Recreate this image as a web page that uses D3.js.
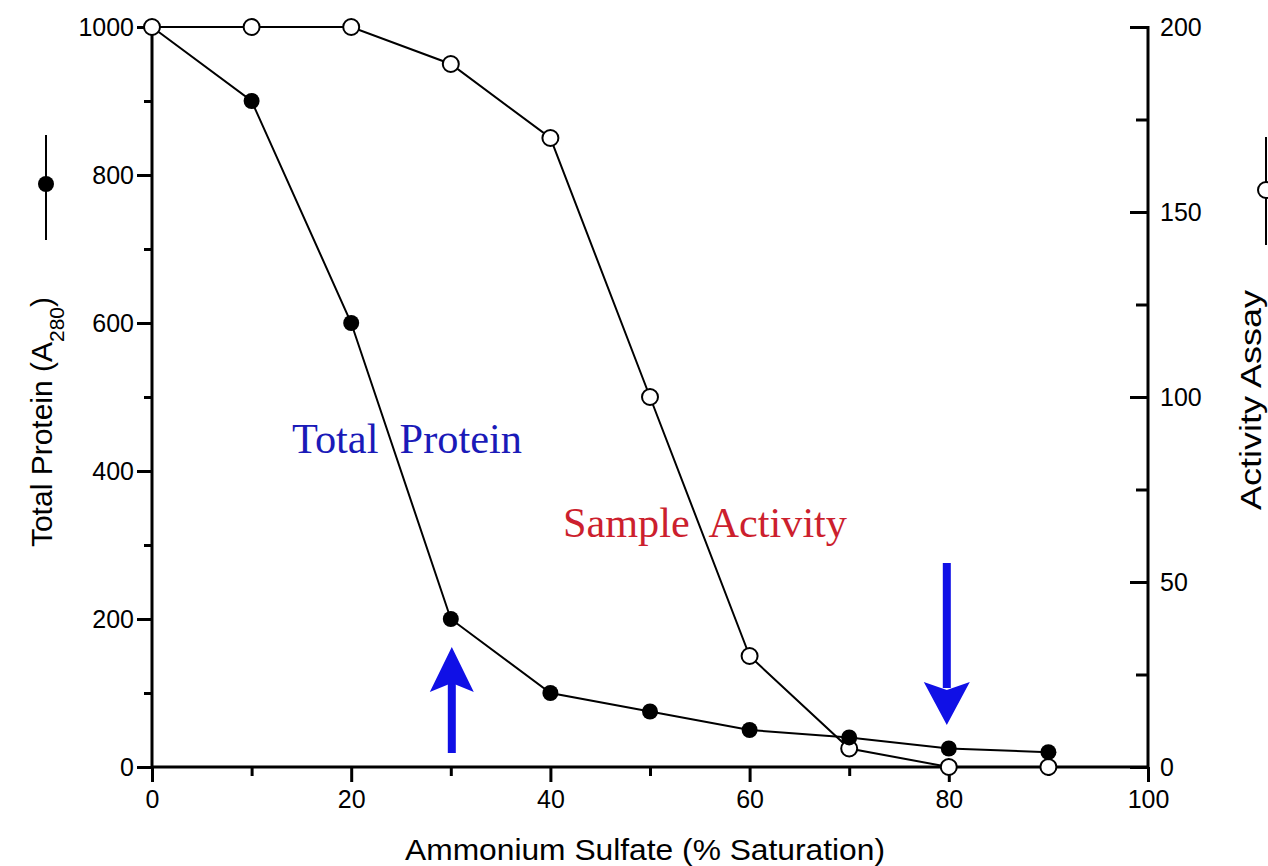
<!DOCTYPE html>
<html>
<head>
<meta charset="utf-8">
<script src="https://cdn.jsdelivr.net/npm/d3@7"></script>
<style>
  html, body { margin: 0; padding: 0; background: #fff; }
  svg { display: block; }
</style>
</head>
<body>
<svg id="chart" width="1268" height="866"></svg>
<script>
// ---- data ----
const saturation = [0, 10, 20, 30, 40, 50, 60, 70, 80, 90];
const totalProtein = [1000, 900, 600, 200, 100, 75, 50, 40, 25, 20];
const activity = [200, 200, 200, 190, 170, 100, 30, 5, 0, 0];
const xTicks = [0, 20, 40, 60, 80, 100];
const xMinorTicks = [10, 30, 50, 70, 90];
const yLeftTicks = [0, 200, 400, 600, 800, 1000];
const yLeftMinor = [100, 300, 500, 700, 900];
const yRightTicks = [0, 50, 100, 150, 200];
const yRightMinor = [25, 75, 125, 175];
const arrowsUp = [30];
const arrowsDown = [80];

const svg = d3.select("#chart");
const x = d3.scaleLinear().domain([0, 100]).range([152, 1148]);
const yL = d3.scaleLinear().domain([0, 1000]).range([767, 27]);
const yR = d3.scaleLinear().domain([0, 200]).range([767, 27]);
const sans = "'Liberation Sans', Arial, sans-serif";
const serif = "'Liberation Serif', 'Times New Roman', serif";

// ---- axes ----
const axisW = 3;
const gx = svg.append("g").attr("transform", `translate(0,${yL(0)})`)
  .call(d3.axisBottom(x).tickValues(xTicks).tickSize(15).tickPadding(8).tickFormat(d3.format("d")));
const gxm = svg.append("g").attr("transform", `translate(0,${yL(0)})`)
  .call(d3.axisBottom(x).tickValues(xMinorTicks).tickSize(9).tickFormat(""));
const gy = svg.append("g").attr("transform", `translate(${x(0)},0)`)
  .call(d3.axisLeft(yL).tickValues(yLeftTicks).tickSize(15).tickPadding(3).tickFormat(d3.format("d")));
const gym = svg.append("g").attr("transform", `translate(${x(0)},0)`)
  .call(d3.axisLeft(yL).tickValues(yLeftMinor).tickSize(8).tickFormat(""));
const gr = svg.append("g").attr("transform", `translate(${x(100)},0)`)
  .call(d3.axisLeft(yR).tickValues(yRightTicks).tickSize(18).tickFormat(""));
const grm = svg.append("g").attr("transform", `translate(${x(100)},0)`)
  .call(d3.axisLeft(yR).tickValues(yRightMinor).tickSize(12).tickFormat(""));
svg.append("g").selectAll("text").data(yRightTicks).join("text")
  .attr("x", x(100) + 12).attr("y", d => yR(d)).attr("dy", "0.35em")
  .attr("font-family", sans).attr("font-size", 25).attr("fill", "#000")
  .text(d => d);

[gx, gxm, gy, gym, gr, grm].forEach(g => {
  g.select(".domain").attr("stroke", "#000").attr("stroke-width", axisW);
  g.selectAll(".tick line").attr("stroke", "#000").attr("stroke-width", axisW);
  g.selectAll("text").attr("font-family", sans).attr("font-size", 25).attr("fill", "#000");
});
gy.selectAll("text").attr("dy", "0.35em");
[gx, gxm, gy, gym, gr, grm].forEach(g => g.select(".domain").attr("d", null));
svg.append("line").attr("x1", x(0)).attr("x2", x(100)).attr("y1", yL(0)).attr("y2", yL(0))
  .attr("stroke", "#000").attr("stroke-width", axisW);
svg.append("line").attr("x1", x(0)).attr("x2", x(0)).attr("y1", yL(1000) - 1).attr("y2", yL(0))
  .attr("stroke", "#000").attr("stroke-width", axisW);
svg.append("line").attr("x1", x(100)).attr("x2", x(100)).attr("y1", yR(200) - 1).attr("y2", yR(0))
  .attr("stroke", "#000").attr("stroke-width", axisW);

// ---- axis titles ----
svg.append("text").attr("x", 645).attr("y", 860).attr("text-anchor", "middle")
  .attr("font-family", sans).attr("font-size", 30).attr("fill", "#000")
  .attr("textLength", 480).attr("lengthAdjust", "spacingAndGlyphs")
  .text("Ammonium Sulfate (% Saturation)");
const lt = svg.append("text").attr("transform", "translate(52,422) rotate(-90)")
  .attr("text-anchor", "middle").attr("font-family", sans).attr("font-size", 30).attr("fill", "#000");
lt.append("tspan").text("Total Protein (A");
lt.append("tspan").attr("baseline-shift", "sub").attr("font-size", 21).text("280");
lt.append("tspan").text(")");
svg.append("text").attr("transform", "translate(1261,400) rotate(-90)")
  .attr("text-anchor", "middle").attr("font-family", sans).attr("font-size", 30).attr("fill", "#000")
  .attr("textLength", 220).attr("lengthAdjust", "spacingAndGlyphs")
  .text("Activity Assay");

// legend symbols next to axis titles
svg.append("line").attr("x1", 46).attr("x2", 46).attr("y1", 135).attr("y2", 240)
  .attr("stroke", "#000").attr("stroke-width", 2);
svg.append("circle").attr("cx", 46).attr("cy", 184).attr("r", 8).attr("fill", "#000");
svg.append("line").attr("x1", 1266).attr("x2", 1266).attr("y1", 137).attr("y2", 245)
  .attr("stroke", "#000").attr("stroke-width", 2);
svg.append("circle").attr("cx", 1266).attr("cy", 190).attr("r", 8).attr("fill", "#fff")
  .attr("stroke", "#000").attr("stroke-width", 2);

// ---- series ----
const protPts = saturation.map((s, i) => [s, totalProtein[i]]);
const actPts = saturation.map((s, i) => [s, activity[i]]);
svg.append("path").datum(protPts)
  .attr("d", d3.line().x(d => x(d[0])).y(d => yL(d[1])))
  .attr("fill", "none").attr("stroke", "#000").attr("stroke-width", 2);
svg.append("path").datum(actPts)
  .attr("d", d3.line().x(d => x(d[0])).y(d => yR(d[1])))
  .attr("fill", "none").attr("stroke", "#000").attr("stroke-width", 2);
svg.append("g").selectAll("circle").data(actPts).join("circle")
  .attr("cx", d => x(d[0])).attr("cy", d => yR(d[1])).attr("r", 8)
  .attr("fill", "#fff").attr("stroke", "#000").attr("stroke-width", 2);
svg.append("g").selectAll("circle").data(protPts.slice(1)).join("circle")
  .attr("cx", d => x(d[0])).attr("cy", d => yL(d[1])).attr("r", 8)
  .attr("fill", "#000");

// ---- annotations ----
svg.append("text").attr("x", 292).attr("y", 453)
  .attr("font-family", serif).attr("font-size", 43).attr("fill", "#1a1ab8")
  .attr("textLength", 230).attr("lengthAdjust", "spacingAndGlyphs")
  .style("white-space", "pre")
  .text("Total  Protein");
svg.append("text").attr("x", 563).attr("y", 537)
  .attr("font-family", serif).attr("font-size", 43).attr("fill", "#cc1f2e")
  .attr("textLength", 284).attr("lengthAdjust", "spacingAndGlyphs")
  .style("white-space", "pre")
  .text("Sample  Activity");

// ---- arrows ----
const blue = "#1010e6";
arrowsUp.forEach(v => {
  const cx = x(v) + 1;
  svg.append("rect").attr("x", cx - 4).attr("y", 680).attr("width", 8).attr("height", 73).attr("fill", blue);
  svg.append("path").attr("d", `M${cx},647 L${cx - 22},692 L${cx},683 L${cx + 22},692 Z`).attr("fill", blue);
});
arrowsDown.forEach(v => {
  const cx = x(v) - 2;
  svg.append("rect").attr("x", cx - 4).attr("y", 563).attr("width", 8).attr("height", 125).attr("fill", blue);
  svg.append("path").attr("d", `M${cx},725 L${cx - 23},682 L${cx},690 L${cx + 23},682 Z`).attr("fill", blue);
});
</script>
</body>
</html>
